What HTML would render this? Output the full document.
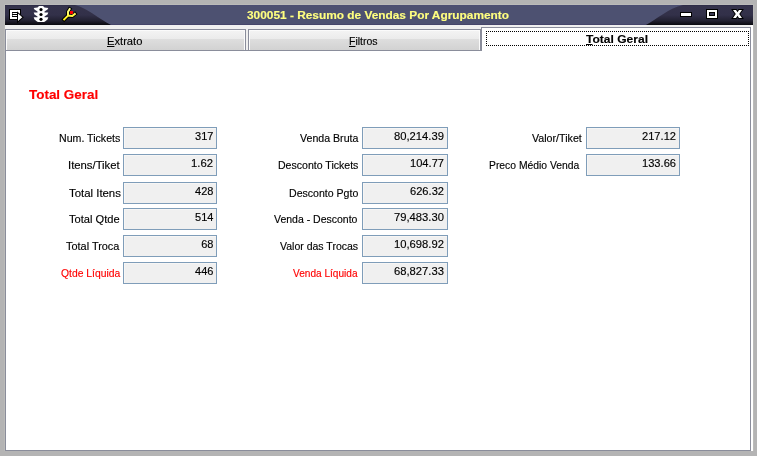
<!DOCTYPE html>
<html>
<head>
<meta charset="utf-8">
<title>300051 - Resumo de Vendas Por Agrupamento</title>
<style>
html,body{margin:0;padding:0;}
body{width:757px;height:456px;background:#b4b4b4;overflow:hidden;position:relative;font-family:"Liberation Sans", sans-serif;font-size:11px;color:#000;}
.abs{position:absolute;}
#frame{position:absolute;left:4px;top:4px;width:750px;height:448px;background:#bbbbb9;}
#client{position:absolute;left:5px;top:25px;width:748px;height:426px;background:#f0f0f0;}
#rstrip{position:absolute;left:751px;top:25px;width:2px;height:426px;background:#fff;}
#bgray{position:absolute;left:0;top:451px;width:757px;height:5px;background:#b4b4b4;}
#page{position:absolute;left:5px;top:50px;width:744px;height:399px;border:1px solid #8a8d9b;background:#fff;}
.tab{position:absolute;top:29px;height:20px;border:1px solid #8a8d9b;box-sizing:content-box;
 background:linear-gradient(to bottom,#f4f4f4 0,#ebebeb 9px,#dedede 9px,#d2d2d2 20px);
 box-shadow:inset 1px 1px 0 #fbfbfb, inset -1px 0 0 #fbfbfb;}
#tab3{position:absolute;left:481px;top:27px;width:268px;height:23px;border:1px solid #8a8d9b;border-bottom:none;background:#fff;}
#focus{position:absolute;left:486px;top:31px;width:261px;height:13px;border:1px dotted #000;}
.bx{position:absolute;height:20px;border:1px solid #7f9db9;background:#f0f0f0;box-shadow:inset 1px 1px 0 #f7f6f5;}
.t{position:absolute;white-space:nowrap;line-height:normal;transform-origin:0 0;-webkit-text-stroke:0.15px currentColor;}
.t u{text-decoration:underline;text-underline-offset:1px;}
</style>
</head>
<body>
<div id="frame"></div>
<svg class="abs" style="left:5px;top:5px" width="748" height="20" viewBox="0 0 748 20">
 <defs>
  <linearGradient id="gd" x1="0" y1="0" x2="0" y2="1">
   <stop offset="0" stop-color="#2a2946"/>
   <stop offset="0.06" stop-color="#35334b"/>
   <stop offset="0.5" stop-color="#323049"/>
   <stop offset="0.78" stop-color="#222131"/>
   <stop offset="1" stop-color="#09090e"/>
  </linearGradient>
  <linearGradient id="gl" x1="0" y1="0" x2="0" y2="1">
   <stop offset="0" stop-color="#4b4d74"/>
   <stop offset="0.06" stop-color="#4e5171"/>
   <stop offset="0.94" stop-color="#4e5171"/>
   <stop offset="1" stop-color="#3d3c66"/>
  </linearGradient>
  <linearGradient id="gy" gradientUnits="userSpaceOnUse" x1="0" y1="3" x2="0" y2="16">
   <stop offset="0" stop-color="#ffffa0"/>
   <stop offset="0.5" stop-color="#fff850"/>
   <stop offset="1" stop-color="#ffee00"/>
  </linearGradient>
  <filter id="soft" x="-5%" y="0" width="110%" height="100%"><feGaussianBlur stdDeviation="0.7 0"/></filter>
 </defs>
 <rect x="0" y="0" width="748" height="20" fill="url(#gd)"/>
 <path d="M70,0 C83,3.5 94,14 106,20 L641,20 C652,14 664,3 678,0 Z" fill="url(#gl)" filter="url(#soft)"/>
 <!-- icon 1: list with arrow -->
 <g>
  <rect x="4" y="4" width="12" height="11" fill="#000"/>
  <rect x="5" y="5" width="10" height="9" fill="#fff"/>
  <rect x="7" y="7" width="6" height="1" fill="#000"/>
  <rect x="7" y="9" width="6" height="1" fill="#000"/>
  <rect x="7" y="11" width="6" height="1" fill="#000"/>
  <rect x="7" y="7" width="1" height="5" fill="#000" opacity="0.55"/>
  <path d="M13,8.5 L17.3,12.3 L13,16 Z" fill="#fff" stroke="#000" stroke-width="2" stroke-linejoin="miter" paint-order="stroke"/>
 </g>
 <!-- icon 2: traffic light -->
 <g>
  <path d="M34,1 L38,1 L39.5,2.5 L43.3,3 L42.5,4.5 L39.5,6.5 L39.5,7.5 L43.3,7.5 L42.5,9.5 L39.5,11.5 L39.5,12.3 L43.3,12.3 L42.5,14.5 L40,16.5 L39,17 L33,17 L32,16.5 L29.5,14.5 L28.7,12.3 L32.5,12.3 L32.5,11.5 L29.5,9.5 L28.7,7.5 L32.5,7.5 L32.5,6.5 L29.5,4.5 L28.7,3 L32.5,2.5 Z" fill="#fff"/>
  <circle cx="36" cy="4.6" r="1.6" fill="#000"/>
  <circle cx="36" cy="9.5" r="1.6" fill="#000"/>
  <circle cx="36" cy="14.3" r="1.6" fill="#000"/>
 </g>
 <!-- icon 3: wrench -->
 <g fill="none" stroke-linejoin="round">
  <path d="M59.2,14.4 L63,10.6 L63,6.8 L64.6,4.2 M63,10.6 L67.3,11 L69.8,9" stroke="#000" stroke-width="3.9" stroke-linecap="square"/>
  <path d="M59.2,14.4 L63,10.6 L63,6.8 L64.6,4.2 M63,10.6 L67.3,11 L69.8,9" stroke="url(#gy)" stroke-width="2" stroke-linecap="square"/>
  <rect x="65" y="6" width="3" height="3" fill="#ff0000" stroke="none"/>
 </g>
 <!-- minimize -->
 <rect x="675" y="7" width="12" height="5" fill="#000"/>
 <rect x="676" y="8" width="10" height="3" fill="#fff"/>
 <!-- maximize -->
 <rect x="701" y="4" width="12" height="10" fill="#000"/>
 <rect x="702" y="5" width="10" height="8" fill="#fff"/>
 <rect x="704" y="7" width="6" height="4" fill="#000"/>
 <rect x="705" y="8" width="4" height="2" fill="#3a3a55"/>
 <!-- close -->
 <path d="M728,5 L731,5 L732.5,7.2 L734,5 L737,5 L734.2,9 L737,13 L734,13 L732.5,10.8 L731,13 L728,13 L730.8,9 Z" fill="#fff" stroke="#000" stroke-width="2" stroke-linejoin="miter" paint-order="stroke"/>
</svg>
<div id="client"></div>
<div id="rstrip"></div>
<div id="page"></div>
<div class="tab" style="left:5px;width:239px"></div>
<div class="tab" style="left:248px;width:231px"></div>
<div id="tab3"></div>
<div id="focus"></div>
<div id="bgray"></div>
<div class="bx" style="left:123px;top:127px;width:92px"></div>
<div class="bx" style="left:362px;top:127px;width:84px"></div>
<div class="bx" style="left:586px;top:127px;width:92px"></div>
<div class="bx" style="left:123px;top:154px;width:92px"></div>
<div class="bx" style="left:362px;top:154px;width:84px"></div>
<div class="bx" style="left:586px;top:154px;width:92px"></div>
<div class="bx" style="left:123px;top:182px;width:92px"></div>
<div class="bx" style="left:362px;top:182px;width:84px"></div>
<div class="bx" style="left:123px;top:208px;width:92px"></div>
<div class="bx" style="left:362px;top:208px;width:84px"></div>
<div class="bx" style="left:123px;top:235px;width:92px"></div>
<div class="bx" style="left:362px;top:235px;width:84px"></div>
<div class="bx" style="left:123px;top:262px;width:92px"></div>
<div class="bx" style="left:362px;top:262px;width:84px"></div>
<span class="t" style="left:59.20px;top:132px;font-size:11px;transform:scaleX(0.9642);">Num. Tickets</span>
<span class="t" style="left:195.04px;top:130px;font-size:11px;">317</span>
<span class="t" style="left:299.60px;top:132px;font-size:11px;transform:scaleX(0.9643);">Venda Bruta</span>
<span class="t" style="left:394.00px;top:130px;font-size:11px;transform:scaleX(1.0217);">80,214.39</span>
<span class="t" style="left:531.90px;top:132px;font-size:11px;transform:scaleX(0.9696);">Valor/Tiket</span>
<span class="t" style="left:642.00px;top:130px;font-size:11px;transform:scaleX(1.0102);">217.12</span>
<span class="t" style="left:67.80px;top:159px;font-size:11px;transform:scaleX(1.0269);">Itens/Tiket</span>
<span class="t" style="left:191.40px;top:157px;font-size:11px;transform:scaleX(1.0270);">1.62</span>
<span class="t" style="left:277.60px;top:159px;font-size:11px;transform:scaleX(0.9598);">Desconto Tickets</span>
<span class="t" style="left:410.00px;top:157px;font-size:11px;transform:scaleX(1.0102);">104.77</span>
<span class="t" style="left:488.70px;top:159px;font-size:11px;transform:scaleX(0.9405);">Preco Médio Venda</span>
<span class="t" style="left:642.00px;top:157px;font-size:11px;transform:scaleX(1.0102);">133.66</span>
<span class="t" style="left:68.50px;top:187px;font-size:11px;transform:scaleX(1.0351);">Total Itens</span>
<span class="t" style="left:195.04px;top:185px;font-size:11px;">428</span>
<span class="t" style="left:288.70px;top:187px;font-size:11px;transform:scaleX(0.9604);">Desconto Pgto</span>
<span class="t" style="left:410.00px;top:185px;font-size:11px;transform:scaleX(1.0102);">626.32</span>
<span class="t" style="left:69.30px;top:213px;font-size:11px;transform:scaleX(1.0112);">Total Qtde</span>
<span class="t" style="left:195.04px;top:211px;font-size:11px;">514</span>
<span class="t" style="left:274.10px;top:213px;font-size:11px;transform:scaleX(0.9537);">Venda - Desconto</span>
<span class="t" style="left:394.00px;top:211px;font-size:11px;transform:scaleX(1.0217);">79,483.30</span>
<span class="t" style="left:66.10px;top:240px;font-size:11px;transform:scaleX(0.9923);">Total Troca</span>
<span class="t" style="left:201.15px;top:238px;font-size:11px;">68</span>
<span class="t" style="left:279.90px;top:240px;font-size:11px;transform:scaleX(0.9555);">Valor das Trocas</span>
<span class="t" style="left:394.00px;top:238px;font-size:11px;transform:scaleX(1.0217);">10,698.92</span>
<span class="t" style="left:60.80px;top:267px;font-size:11px;color:#ff0000;transform:scaleX(0.9397);">Qtde Líquida</span>
<span class="t" style="left:195.04px;top:265px;font-size:11px;">446</span>
<span class="t" style="left:293.00px;top:267px;font-size:11px;color:#ff0000;transform:scaleX(0.9167);">Venda Líquida</span>
<span class="t" style="left:394.00px;top:265px;font-size:11px;transform:scaleX(1.0217);">68,827.33</span>
<span class="t" style="left:29.30px;top:87px;font-size:13px;font-weight:700;color:#ff0000;transform:scaleX(1.0336);">Total Geral</span>
<span class="t" style="left:246.50px;top:9px;font-size:11px;font-weight:700;color:#ffff80;transform:scaleX(1.0786);">300051 - Resumo de Vendas Por Agrupamento</span>
<span class="t" style="left:106.90px;top:35px;font-size:11px;transform:scaleX(1.0155);"><u>E</u>xtrato</span>
<span class="t" style="left:349.00px;top:35px;font-size:11px;transform:scaleX(0.9548);"><u>F</u>iltros</span>
<span class="t" style="left:586.00px;top:33px;font-size:11px;font-weight:700;transform:scaleX(1.0943);"><u>T</u>otal Geral</span>
</body>
</html>
